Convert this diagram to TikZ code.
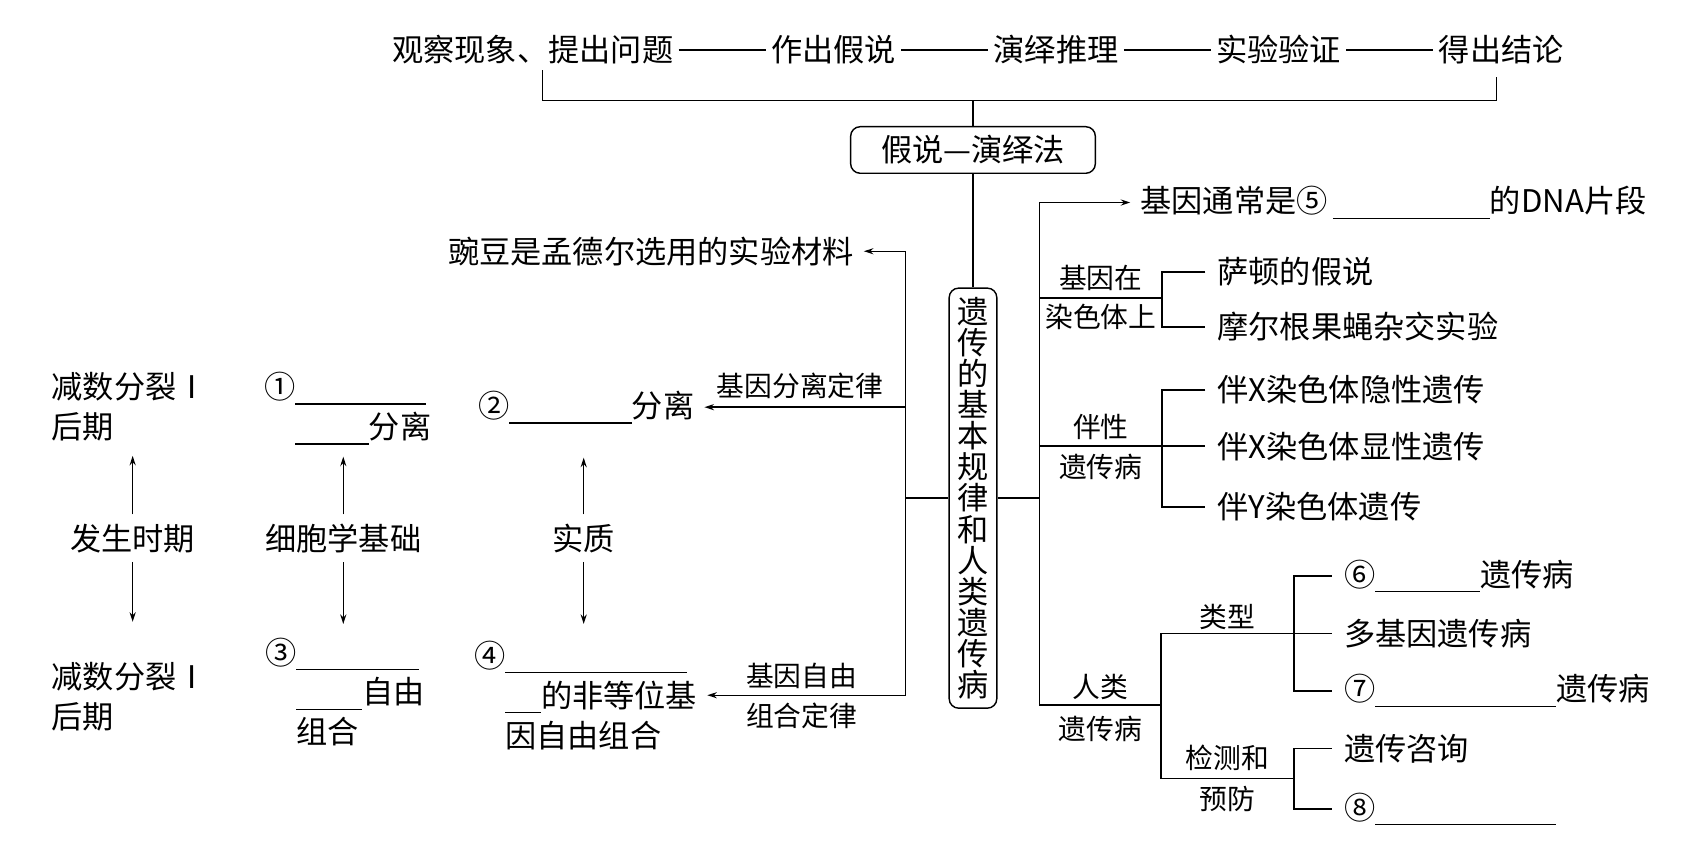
\documentclass[tikz,border=0pt]{standalone}
\usepackage{fontspec}
\setmainfont{Noto Sans CJK SC}
\usepackage{tikz}
\usetikzlibrary{arrows.meta, positioning}

\newcommand{\mainsz}{\fontsize{16.4pt}{21pt}\selectfont}
\newcommand{\lblsz}{\fontsize{14.6pt}{17pt}\selectfont}
\newcommand{\fillblank}[1]{\rule[-0.2em]{#1}{0.6pt}}

\begin{document}
\begin{tikzpicture}[
    x=0.02cm, y=-0.02cm,
    line width=0.75pt,
    txt/.style={inner sep=0pt, font=\mainsz, align=left},
    lbl/.style={inner sep=0pt, font=\lblsz},
    item/.style={txt, anchor=west, inner xsep=6pt},
    frame/.style={draw, rounded corners=5pt, inner sep=0pt, font=\mainsz, align=center},
    arr/.style={-{Stealth[length=5pt, width=3.2pt]}},
    link/.style={shorten >=5pt}
  ]
    \useasboundingbox (0,0) rectangle (1568,791);

    \node[txt] (obs) at (492,46) {观察现象、提出问题};
    \node[txt, right=1.78cm of obs] (hyp) {作出假说};
    \node[txt, right=1.78cm of hyp] (ded) {演绎推理};
    \node[txt, right=1.78cm of ded] (ver) {实验验证};
    \node[txt, right=1.78cm of ver] (con) {得出结论};
    \foreach \a/\b in {obs/hyp, hyp/ded, ded/ver, ver/con}
      \draw[shorten <=2.5pt, shorten >=2.5pt] (\a) -- (\b);

    \coordinate (bl0) at (501,65);
    \coordinate (br0) at (1382,71);
    \coordinate (br)  at (1382,93);
    \draw (bl0) |- (br) -- (br0);

    \node[frame, minimum width=4.52cm, minimum height=0.86cm] (method) at (898.5,138.5) {假说—演绎法};
    \draw (method.north |- br) -- (method);

    \node[frame, minimum width=0.88cm, minimum height=7.76cm,
          font={\fontsize{16.4pt}{16.3pt}\selectfont}] (core) at (898.5,460)
      {遗\\传\\的\\基\\本\\规\\律\\和\\人\\类\\遗\\传\\病};
    \draw (method) -- (core);

    \coordinate (lj) at (836,460);
    \draw (core) -- (lj);
    \node[txt] (pea) at (601,232) {豌豆是孟德尔选用的实验材料};
    \node[txt, anchor=west] (sep) at (441,376) {②\fillblank{2.26cm}分离};
    \node[txt, anchor=west] (ind) at (466,642)
      {\llap{④}\fillblank{3.36cm}\\\fillblank{0.66cm}的非等位基\\因自由组合};
    \draw[arr, link] (lj) |- (pea);
    \draw[arr, link] (lj) |- (sep) node[lbl, pos=0.75, above=4pt] (seplaw) {基因分离定律};
    \draw[arr, link] (lj) |- (ind)
      node[lbl, pos=0.75, above=3pt] (indlawA) {基因自由}
      node[lbl, pos=0.75, below=3.5pt] (indlawB) {组合定律};

    \node[txt, anchor=west] (meioA) at (47,375.5) {减数分裂Ⅰ\\后期};
    \node[txt, anchor=west] (meioB) at (47,643.5) {减数分裂Ⅰ\\后期};
    \node[txt] (period) at (122.5,497) {发生时期};
    \node[txt, anchor=west] (first) at (272,377) {\llap{①}\fillblank{2.42cm}\\\fillblank{1.36cm}分离};
    \node[txt, anchor=west] (third) at (273,639) {\llap{③}\fillblank{2.26cm}\\\fillblank{1.22cm}自由\\组合};
    \node[txt] (cyto) at (317,497) {细胞学基础};
    \node[txt] (essence) at (539,497) {实质};
    \foreach \lab/\up/\dn/\su/\sd in {period/meioA/meioB/7.4pt/21pt,
        cyto/first/third/6pt/6.8pt, essence/sep/ind/17.6pt/8.5pt} {
      \draw[arr, shorten <=4.5pt, shorten >=\su] (\lab.north) -- (\lab.north |- \up.south);
      \draw[arr, shorten <=4.5pt, shorten >=\sd] (\lab.south) -- (\lab.south |- \dn.north);
    }

    \coordinate (rj) at (960,460);
    \draw (core) -- (rj);
    \node[txt, anchor=west] (gene) at (1052.5,187) {基因通常是⑤\,\fillblank{2.9cm}的DNA片段};
    \draw[arr, link] (rj) |- (gene);

    \coordinate (chrj) at (1073,275);
    \draw (rj) |- (chrj)
      node[lbl, pos=0.75, above=3.5pt] (chrA) {基因在}
      node[lbl, pos=0.75, below=3pt] (chrB) {染色体上};
    \node[item] (sutton) at (1113,251) {萨顿的假说};
    \node[item] (morgan) at (1113,302) {摩尔根果蝇杂交实验};
    \draw (sutton) -| (chrj) |- (morgan);

    \coordinate (sexj) at (1073,412);
    \draw (rj) |- (sexj)
      node[lbl, pos=0.75, above=3pt] (sexA) {伴性}
      node[lbl, pos=0.75, below=4pt] (sexB) {遗传病};
    \node[item] (xrec) at (1113,360) {伴X染色体隐性遗传};
    \node[item] (xdom) at (1113,412) {伴X染色体显性遗传};
    \node[item] (ylink) at (1113,468) {伴Y染色体遗传};
    \draw (xrec) -| (sexj) |- (ylink);
    \draw (sexj) -- (xdom);

    \coordinate (humj) at (1072,651);
    \draw (rj) |- (humj)
      node[lbl, pos=0.75, above=2.5pt] (humA) {人类}
      node[lbl, pos=0.75, below=5.5pt] (humB) {遗传病};
    \coordinate (typej) at (1195,585);
    \coordinate (prevj) at (1195,719);
    \draw (humj) |- (typej) node[lbl, pos=0.75, above=1.5pt] (typelbl) {类型};
    \draw (humj) |- (prevj)
      node[lbl, pos=0.75, above=4pt] (prevA) {检测和}
      node[lbl, pos=0.75, below=3.5pt] (prevB) {预防};
    \node[item] (sixth) at (1230,532) {⑥\fillblank{1.94cm}遗传病};
    \node[item] (poly) at (1230,585) {多基因遗传病};
    \node[item] (seventh) at (1230,638) {⑦\fillblank{3.34cm}遗传病};
    \node[item] (consult) at (1230,691) {遗传咨询};
    \node[item] (eighth) at (1230,747) {⑧\fillblank{3.34cm}};
    \draw (sixth) -| (typej) |- (seventh);
    \draw (typej) -- (poly);
    \draw (consult) -| (prevj) |- (eighth);
  \end{tikzpicture}
\end{document}
